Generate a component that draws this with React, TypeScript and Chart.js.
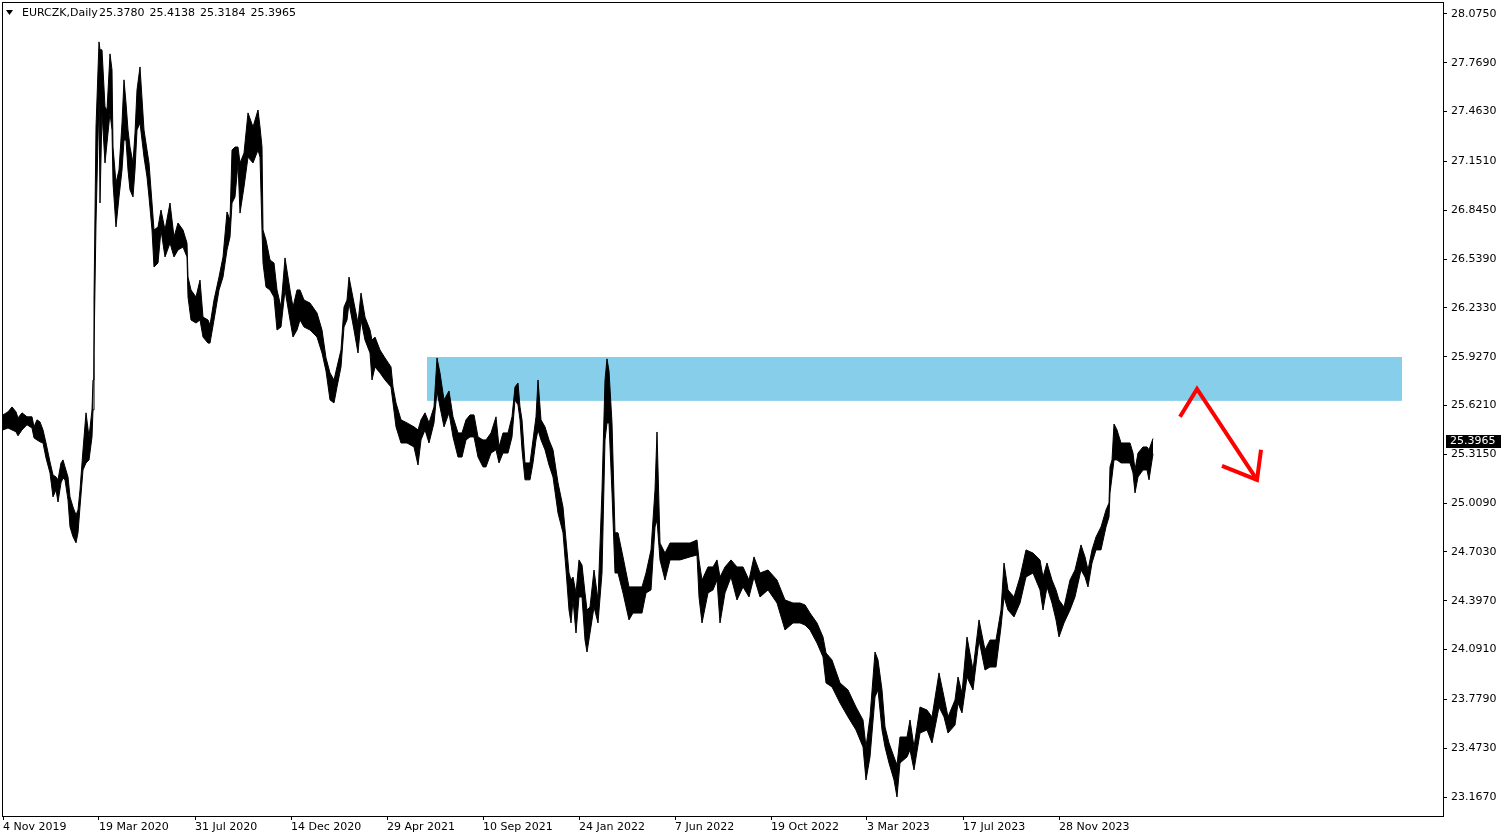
import React, { useEffect, useRef } from "react";
import { Chart, registerables } from "chart.js";

Chart.register(...registerables);

// ---------- header ----------
const symbolTitle = "EURCZK,Daily";
const ohlcLast = ["25.3780", "25.4138", "25.3184", "25.3965"];
const lastClose = 25.3965;

// ---------- axes ----------
const xTickIdx = [0, 96, 192, 288, 384, 480, 576, 672, 768, 864, 960, 1056];
const xTickLabels = [
  "4 Nov 2019", "19 Mar 2020", "31 Jul 2020", "14 Dec 2020", "29 Apr 2021", "10 Sep 2021",
  "24 Jan 2022", "7 Jun 2022", "19 Oct 2022", "3 Mar 2023", "17 Jul 2023", "28 Nov 2023",
];
const yTickValues = [
  28.075, 27.769, 27.463, 27.151, 26.845, 26.539, 26.233, 25.927, 25.621,
  25.315, 25.009, 24.703, 24.397, 24.091, 23.779, 23.473, 23.167,
];
const yMin = 23.048;
const yMax = 28.15;
const xMin = -1;
const xMax = 1440;

// ---------- price series (bar index, high, low) ----------
const barIdx = [
  0, 5, 9, 13, 15, 19, 24, 29, 31, 34,
  37, 40, 43, 47, 50, 53, 55, 58, 60, 62,
  65, 67, 70, 73, 75, 77, 80, 83, 86, 89,
  90, 91, 93, 96, 97, 99, 102, 104, 107, 109,
  110, 113, 116, 119, 121, 123, 125, 127, 130, 132,
  134, 137, 141, 144, 146, 149, 151, 155, 158, 162,
  167, 171, 175, 180, 184, 185, 188, 193, 197, 200,
  205, 207, 211, 216, 220, 224, 227, 229, 232, 235,
  237, 241, 245, 250, 255, 257, 259, 260, 263, 267,
  271, 274, 278, 282, 287, 290, 294, 297, 301, 307,
  314, 319, 323, 327, 331, 334, 338, 341, 344, 346,
  351, 355, 358, 362, 367, 369, 372, 377, 382, 388,
  390, 393, 398, 404, 411, 415, 418, 422, 426, 431,
  434, 437, 441, 446, 450, 455, 459, 463, 467, 471,
  475, 480, 483, 488, 493, 496, 500, 505, 509, 512,
  515, 517, 519, 522, 527, 530, 533, 535, 538, 542,
  546, 550, 555, 560, 563, 566, 568, 570, 573, 576,
  579, 582, 584, 587, 591, 595, 599, 602, 604, 606,
  609, 612, 615, 620, 626, 630, 635, 639, 643, 648,
  652, 654, 657, 662, 667, 677, 687, 694, 696, 699,
  705, 710, 714, 717, 722, 728, 734, 740, 746, 751,
  757, 765, 774, 782, 790, 797, 802, 807, 814, 820,
  823, 829, 837, 845, 853, 860, 863, 867, 872, 875,
  879, 882, 886, 891, 894, 897, 904, 907, 911, 917,
  924, 929, 936, 941, 945, 952, 955, 959, 964, 970,
  976, 982, 987, 993, 998, 1001, 1005, 1011, 1017, 1023,
  1030, 1037, 1040, 1044, 1049, 1053, 1056, 1061, 1067, 1072,
  1078, 1082, 1085, 1089, 1093, 1098, 1103, 1106, 1107, 1109,
  1111, 1114, 1118, 1123, 1127, 1130, 1132, 1135, 1140, 1144,
  1146, 1150,
];
const highs = [
  25.562, 25.581, 25.612, 25.581, 25.543, 25.575, 25.550, 25.550, 25.487, 25.531,
  25.518, 25.468, 25.386, 25.267, 25.186, 25.173, 25.155, 25.261, 25.280, 25.236,
  25.173, 25.048, 24.985, 24.935, 24.966, 25.092, 25.343, 25.575, 25.424, 25.593,
  25.781, 26.282, 27.367, 27.900, 27.850, 27.850, 27.492, 27.473, 27.825, 27.724,
  27.241, 27.016, 27.097, 27.392, 27.662, 27.517, 27.348, 27.241, 27.141, 27.329,
  27.599, 27.743, 27.348, 27.222, 27.141, 26.890, 26.721, 26.740, 26.846, 26.721,
  26.890, 26.677, 26.765, 26.721, 26.639, 26.426, 26.345, 26.301, 26.407, 26.175,
  26.157, 26.125, 26.282, 26.426, 26.552, 26.834, 26.784, 27.222, 27.241, 27.241,
  27.141, 27.203, 27.455, 27.367, 27.473, 27.367, 27.241, 26.721, 26.658, 26.533,
  26.514, 26.345, 26.238, 26.546, 26.345, 26.238, 26.345, 26.345, 26.282, 26.263,
  26.201, 26.094, 25.919, 25.825, 25.781, 25.863, 25.969, 26.238, 26.282, 26.426,
  26.263, 26.138, 26.326, 26.175, 26.094, 26.031, 26.050, 25.969, 25.919, 25.863,
  25.737, 25.637, 25.531, 25.512, 25.487, 25.468, 25.531, 25.575, 25.512, 25.612,
  25.919, 25.825, 25.656, 25.712, 25.550, 25.449, 25.449, 25.531, 25.562, 25.562,
  25.424, 25.405, 25.405, 25.449, 25.550, 25.361, 25.449, 25.449, 25.550, 25.737,
  25.762, 25.612, 25.531, 25.261, 25.261, 25.405, 25.550, 25.781, 25.531, 25.487,
  25.405, 25.343, 25.136, 24.985, 24.778, 24.571, 24.527, 24.546, 24.446, 24.653,
  24.621, 24.446, 24.339, 24.358, 24.590, 24.402, 25.092, 25.781, 25.913, 25.837,
  25.512, 24.823, 24.823, 24.672, 24.484, 24.484, 24.484, 24.484, 24.571, 24.716,
  25.092, 25.455, 24.759, 24.696, 24.759, 24.759, 24.759, 24.778, 24.653, 24.527,
  24.609, 24.609, 24.653, 24.546, 24.609, 24.653, 24.609, 24.609, 24.527, 24.672,
  24.571, 24.590, 24.527, 24.402, 24.383, 24.383, 24.371, 24.320, 24.258, 24.170,
  24.070, 24.026, 23.882, 23.838, 23.731, 23.650, 23.481, 23.669, 24.076, 24.026,
  23.838, 23.606, 23.506, 23.418, 23.368, 23.543, 23.543, 23.650, 23.481, 23.731,
  23.712, 23.669, 23.945, 23.794, 23.669, 23.775, 23.919, 23.819, 24.170, 23.963,
  24.277, 24.089, 24.151, 24.151, 24.339, 24.634, 24.465, 24.421, 24.546, 24.716,
  24.696, 24.653, 24.546, 24.634, 24.527, 24.465, 24.402, 24.358, 24.527, 24.590,
  24.747, 24.672, 24.590, 24.716, 24.797, 24.860, 24.966, 25.010, 25.236, 25.280,
  25.505, 25.468, 25.386, 25.386, 25.386, 25.323, 25.217, 25.323, 25.361, 25.361,
  25.343, 25.414,
];
const lows = [
  25.468, 25.480, 25.468, 25.456, 25.431, 25.468, 25.500, 25.480, 25.418, 25.405,
  25.393, 25.386, 25.292, 25.198, 25.048, 25.092, 25.016, 25.136, 25.167, 25.155,
  25.029, 24.860, 24.798, 24.760, 24.823, 24.985, 25.217, 25.261, 25.280, 25.424,
  25.593, 25.969, 26.765, 27.555, 26.890, 27.455, 27.141, 27.266, 27.455, 27.348,
  27.016, 26.740, 26.928, 27.097, 27.285, 27.285, 27.097, 26.972, 26.928, 27.097,
  27.348, 27.392, 27.178, 27.053, 26.928, 26.721, 26.489, 26.514, 26.721, 26.552,
  26.639, 26.552, 26.596, 26.614, 26.552, 26.301, 26.157, 26.138, 26.157, 26.050,
  26.012, 26.012, 26.157, 26.345, 26.426, 26.596, 26.677, 26.890, 26.928, 27.141,
  26.827, 26.991, 27.178, 27.141, 27.222, 27.178, 26.721, 26.514, 26.363, 26.345,
  26.301, 26.094, 26.113, 26.345, 26.157, 26.050, 26.094, 26.157, 26.113, 26.094,
  26.050, 25.950, 25.837, 25.656, 25.637, 25.737, 25.863, 26.113, 26.157, 26.263,
  26.094, 25.950, 26.157, 26.031, 25.950, 25.781, 25.863, 25.825, 25.781, 25.737,
  25.637, 25.487, 25.386, 25.386, 25.361, 25.248, 25.405, 25.468, 25.386, 25.512,
  25.712, 25.612, 25.487, 25.575, 25.424, 25.298, 25.298, 25.405, 25.424, 25.424,
  25.298, 25.236, 25.236, 25.323, 25.343, 25.261, 25.323, 25.323, 25.424, 25.656,
  25.625, 25.531, 25.343, 25.155, 25.155, 25.261, 25.405, 25.468, 25.405, 25.343,
  25.248, 25.173, 24.947, 24.823, 24.590, 24.339, 24.258, 24.402, 24.195, 24.421,
  24.421, 24.151, 24.076, 24.195, 24.358, 24.258, 24.571, 25.405, 25.512, 25.512,
  25.073, 24.571, 24.571, 24.446, 24.277, 24.320, 24.320, 24.320, 24.446, 24.465,
  24.860, 24.904, 24.653, 24.527, 24.653, 24.653, 24.672, 24.684, 24.421, 24.258,
  24.446, 24.465, 24.527, 24.258, 24.446, 24.546, 24.402, 24.484, 24.421, 24.546,
  24.421, 24.465, 24.383, 24.214, 24.258, 24.258, 24.245, 24.214, 24.132, 24.045,
  23.882, 23.857, 23.756, 23.669, 23.587, 23.481, 23.274, 23.418, 23.794, 23.838,
  23.587, 23.481, 23.380, 23.274, 23.167, 23.380, 23.418, 23.462, 23.337, 23.568,
  23.587, 23.506, 23.731, 23.669, 23.568, 23.618, 23.756, 23.694, 23.919, 23.838,
  24.151, 23.963, 23.982, 23.982, 24.233, 24.421, 24.339, 24.296, 24.383, 24.546,
  24.571, 24.465, 24.339, 24.484, 24.383, 24.277, 24.170, 24.258, 24.339, 24.421,
  24.590, 24.546, 24.484, 24.634, 24.716, 24.716, 24.860, 24.922, 25.073, 25.173,
  25.280, 25.280, 25.261, 25.261, 25.261, 25.198, 25.073, 25.173, 25.217, 25.217,
  25.155, 25.318,
];

// ---------- annotations (in data units) ----------
const zoneFromIdx = 424;
const zoneToIdx = 1399;
const zoneTop = 25.925;
const zoneBottom = 25.65;
const arrowIdx = [1177, 1194, 1254];
const arrowVal = [25.55, 25.725, 25.155];
const arrowHeadIdx = [1219, 1258];
const arrowHeadVal = [25.242, 25.343];

const FONT = "11px 'DejaVu Sans', sans-serif";

const overlayPlugin = {
  id: "mtOverlay",
  beforeDatasetsDraw(chart: any) {
    const { ctx, scales } = chart;
    const x = scales.x;
    const y = scales.y;
    const x0 = x.getPixelForValue(zoneFromIdx);
    const x1 = x.getPixelForValue(zoneToIdx);
    const y0 = y.getPixelForValue(zoneTop);
    const y1 = y.getPixelForValue(zoneBottom);
    ctx.save();
    ctx.fillStyle = "#87CEEB";
    ctx.fillRect(x0, y0, x1 - x0, y1 - y0);
    ctx.restore();
  },
  afterDatasetsDraw(chart: any) {
    const { ctx, scales } = chart;
    const x = scales.x;
    const y = scales.y;
    ctx.save();
    ctx.strokeStyle = "#ff0000";
    ctx.lineWidth = 4;
    ctx.lineJoin = "miter";
    ctx.lineCap = "butt";
    ctx.beginPath();
    arrowIdx.forEach((ix, i) => {
      const px = x.getPixelForValue(ix);
      const py = y.getPixelForValue(arrowVal[i]);
      if (i === 0) ctx.moveTo(px, py);
      else ctx.lineTo(px, py);
    });
    ctx.stroke();
    const tipX = x.getPixelForValue(arrowIdx[2]);
    const tipY = y.getPixelForValue(arrowVal[2]);
    ctx.beginPath();
    ctx.moveTo(x.getPixelForValue(arrowHeadIdx[0]), y.getPixelForValue(arrowHeadVal[0]));
    ctx.lineTo(tipX, tipY);
    ctx.lineTo(x.getPixelForValue(arrowHeadIdx[1]), y.getPixelForValue(arrowHeadVal[1]));
    ctx.stroke();
    ctx.restore();
  },
  afterDraw(chart: any) {
    const { ctx, chartArea, scales } = chart;
    const { left, top, right, bottom } = chartArea;
    ctx.save();
    // frame
    ctx.strokeStyle = "#000";
    ctx.lineWidth = 1;
    ctx.strokeRect(left + 0.5, top + 0.5, right - left, bottom - top);
    // header
    ctx.fillStyle = "#000";
    ctx.beginPath();
    ctx.moveTo(left + 4, top + 8);
    ctx.lineTo(left + 11, top + 8);
    ctx.lineTo(left + 7.5, top + 13);
    ctx.closePath();
    ctx.fill();
    ctx.font = FONT;
    ctx.textBaseline = "middle";
    ctx.textAlign = "left";
    ctx.fillText(symbolTitle, left + 20, top + 11);
    let tx = left + 97;
    ohlcLast.forEach((s) => {
      ctx.fillText(s, tx, top + 11);
      tx += 50.5;
    });
    // last price label
    const py = Math.round(scales.y.getPixelForValue(lastClose));
    ctx.fillStyle = "#000";
    ctx.fillRect(right + 3, py - 6, 55, 13);
    ctx.fillStyle = "#fff";
    ctx.fillText(lastClose.toFixed(4), right + 7, py + 0.5);
    ctx.restore();
  },
};

export default function App() {
  const ref = useRef<HTMLCanvasElement>(null);
  useEffect(() => {
    document.body.style.margin = "0";
    const hiData = barIdx.map((b, i) => ({ x: b, y: highs[i] }));
    const loData = barIdx.map((b, i) => ({ x: b, y: lows[i] }));
    const chart = new Chart(ref.current as HTMLCanvasElement, {
      type: "line",
      data: {
        datasets: [
          {
            label: "High",
            data: hiData,
            borderColor: "#000",
            backgroundColor: "#000",
            borderWidth: 1,
            pointRadius: 0,
            tension: 0,
            fill: "+1",
          },
          {
            label: "Low",
            data: loData,
            borderColor: "#000",
            backgroundColor: "#000",
            borderWidth: 1,
            pointRadius: 0,
            tension: 0,
            fill: false,
          },
        ],
      },
      options: {
        animation: false,
        responsive: false,
        devicePixelRatio: 1,
        layout: { padding: { left: 2, top: 2, right: 0, bottom: 0 } },
        plugins: {
          legend: { display: false },
          tooltip: { enabled: false },
        },
        scales: {
          x: {
            type: "linear",
            min: xMin,
            max: xMax,
            afterBuildTicks: (axis: any) => {
              axis.ticks = xTickIdx.map((v) => ({ value: v }));
            },
            afterFit: (axis: any) => {
              axis.height = 24;
              axis.paddingLeft = 0;
              axis.paddingRight = 0;
              axis.paddingTop = 0;
              axis.paddingBottom = 0;
            },
            grid: { drawOnChartArea: false, drawTicks: true, tickLength: 4, color: "#000" },
            border: { display: false },
            ticks: {
              autoSkip: false,
              maxRotation: 0,
              align: "start",
              padding: 1,
              color: "#000",
              font: { family: "'DejaVu Sans'", size: 11 },
              callback: (_v: any, i: number) => xTickLabels[i],
            },
          },
          y: {
            type: "linear",
            position: "right",
            min: yMin,
            max: yMax,
            afterBuildTicks: (axis: any) => {
              axis.ticks = yTickValues.map((v) => ({ value: v }));
            },
            afterFit: (axis: any) => {
              axis.width = 65;
              axis.paddingLeft = 0;
              axis.paddingRight = 0;
              axis.paddingTop = 0;
              axis.paddingBottom = 0;
            },
            grid: { drawOnChartArea: false, drawTicks: true, tickLength: 4, color: "#000" },
            border: { display: false },
            ticks: {
              autoSkip: false,
              padding: 4,
              color: "#000",
              font: { family: "'DejaVu Sans'", size: 11 },
              callback: (v: any) => Number(v).toFixed(4),
            },
          },
        },
      },
      plugins: [overlayPlugin],
    } as any);
    return () => chart.destroy();
  }, []);
  return (
    <div style={{ width: 1508, height: 840, background: "#fff" }}>
      <canvas ref={ref} width={1508} height={840} style={{ display: "block" }} />
    </div>
  );
}
